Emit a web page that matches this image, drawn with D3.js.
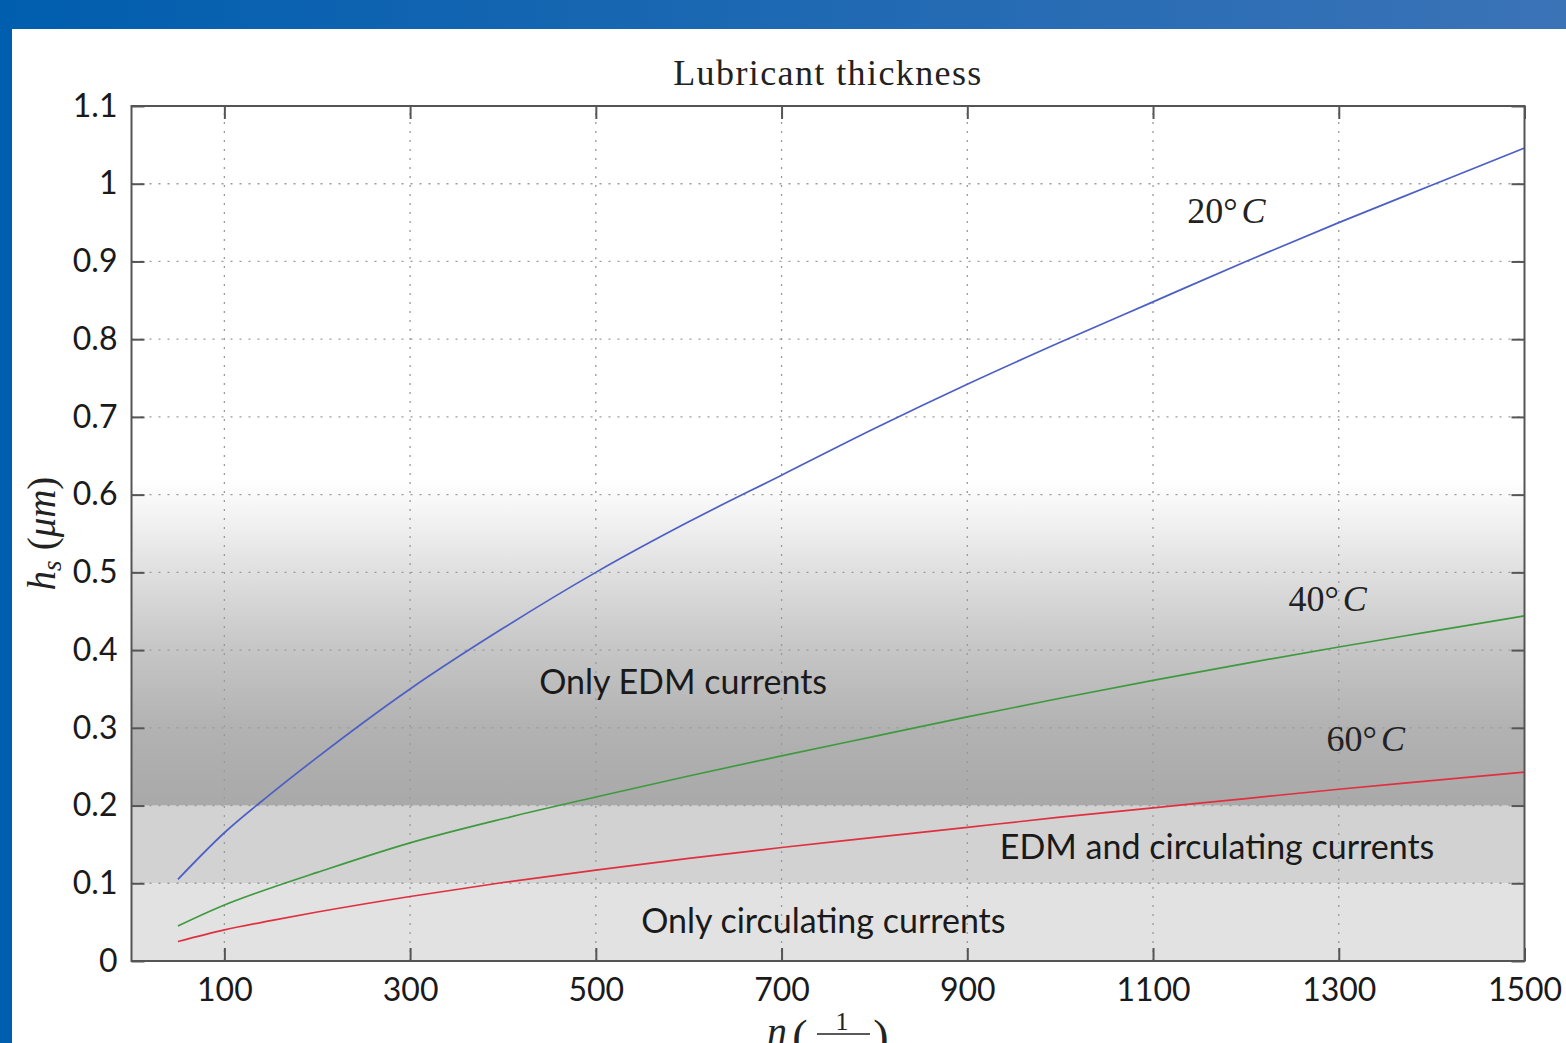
<!DOCTYPE html>
<html>
<head>
<meta charset="utf-8">
<script src="https://cdn.jsdelivr.net/npm/d3@7"></script>
<style>
  html, body { margin: 0; padding: 0; background: #fff; overflow: hidden; }
  svg { display: block; }
  .tick-label { font-family: Lato, "Open Sans", sans-serif; font-size: 32px; fill: #1a1a1a; }
  .zone-label { font-family: Lato, "Open Sans", sans-serif; font-size: 34px; fill: #1a1a1a; }
  .serif { font-family: "Liberation Serif", "DejaVu Serif", serif; fill: #222; }
</style>
</head>
<body>
<svg id="chart" width="1566" height="1043"></svg>
<script>
// speed n (1/min) and film thickness h_s (um)
const speeds = [50, 100, 150, 200, 300, 400, 500, 600, 700, 800, 900, 1000, 1100, 1200, 1300, 1400, 1500];
const h20 = [0.105, 0.165, 0.215, 0.262, 0.350, 0.428, 0.500, 0.565, 0.625, 0.685, 0.742, 0.796, 0.848, 0.900, 0.950, 0.998, 1.046];
const h40 = [0.045, 0.072, 0.094, 0.114, 0.152, 0.183, 0.211, 0.238, 0.264, 0.289, 0.314, 0.338, 0.361, 0.383, 0.404, 0.424, 0.444];
const h60 = [0.025, 0.040, 0.052, 0.063, 0.083, 0.101, 0.117, 0.132, 0.146, 0.159, 0.172, 0.185, 0.197, 0.209, 0.221, 0.232, 0.243];
const seriesNames = ['20°', '40°', '60°'];

const xTicks = [100, 300, 500, 700, 900, 1100, 1300, 1500];
const yTicks = [0, 0.1, 0.2, 0.3, 0.4, 0.5, 0.6, 0.7, 0.8, 0.9, 1, 1.1];
const zoneLimits = [0, 0.1, 0.2, 0.62];
const zoneNames = ['Only circulating currents', 'EDM and circulating currents', 'Only EDM currents'];

const W = 1566, H = 1043;
const margin = {top: 106, right: 41.5, bottom: 82, left: 131.5};

const svg = d3.select('#chart');
const defs = svg.append('defs');

// slide frame
const bar = defs.append('linearGradient').attr('id', 'barGrad');
bar.append('stop').attr('offset', '0%').attr('stop-color', '#005eae');
bar.append('stop').attr('offset', '100%').attr('stop-color', '#3b73b7');
svg.append('rect').attr('x', 0).attr('y', 0).attr('width', W).attr('height', 29).attr('fill', 'url(#barGrad)');
svg.append('rect').attr('x', 0).attr('y', 0).attr('width', 12).attr('height', H).attr('fill', '#005eae');

const x = d3.scaleLinear().domain([0, 1500]).range([margin.left, W - margin.right]);
const y = d3.scaleLinear().domain([0, 1.1]).range([H - margin.bottom, margin.top]);

// background zones
const fade = defs.append('linearGradient').attr('id', 'fade')
    .attr('x1', 0).attr('y1', 1).attr('x2', 0).attr('y2', 0);
[[0, '#a9a9a9'], [0.24, '#b2b2b2'], [0.48, '#c6c6c6'], [0.72, '#e0e0e0'], [1, '#ffffff']].forEach(s => {
    fade.append('stop').attr('offset', s[0]).attr('stop-color', s[1]);
});
const zoneFill = ['#e2e2e2', '#d2d2d2', 'url(#fade)'];
const zg = svg.append('g');
zoneFill.forEach((f, i) => {
    zg.append('rect')
        .attr('x', x(0)).attr('width', x(1500) - x(0))
        .attr('y', y(zoneLimits[i + 1])).attr('height', y(zoneLimits[i]) - y(zoneLimits[i + 1]))
        .attr('fill', f);
});

// dotted grid
const grid = svg.append('g').attr('stroke', '#9a9a9a').attr('stroke-width', 1.3).attr('stroke-dasharray', '2,7');
grid.selectAll('.gx').data(xTicks.slice(0, -1)).join('line')
    .attr('x1', d => x(d)).attr('x2', d => x(d)).attr('y1', y(0)).attr('y2', y(1.1));
grid.selectAll('.gy').data(yTicks.slice(1, -1)).join('line')
    .attr('x1', x(0)).attr('x2', x(1500)).attr('y1', d => y(d)).attr('y2', d => y(d));

// zone labels
const zoneAnchors = [[745, 0.051], [1169, 0.147], [594, 0.359]];
svg.selectAll('.zone-label').data(zoneNames).join('text')
    .attr('class', 'zone-label')
    .attr('x', (d, i) => x(zoneAnchors[i][0]))
    .attr('y', (d, i) => y(zoneAnchors[i][1]))
    .attr('dy', '0.35em')
    .attr('text-anchor', 'middle')
    .text(d => d);

// curves
const line = d3.line().x((d, i) => x(speeds[i])).y(d => y(d)).curve(d3.curveMonotoneX);
const colors = ['#4c5fc4', '#3f9a3f', '#e03040'];
svg.append('g').selectAll('path').data([h20, h40, h60]).join('path')
    .attr('d', line)
    .attr('fill', 'none')
    .attr('stroke', (d, i) => colors[i])
    .attr('stroke-width', 1.7);

// temperature labels
const tempAnchors = [[1179, 0.966], [1288, 0.467], [1329, 0.286]];
const tl = svg.append('g').selectAll('text').data(seriesNames).join('text')
    .attr('class', 'serif')
    .attr('font-size', 36)
    .attr('text-anchor', 'middle')
    .attr('x', (d, i) => x(tempAnchors[i][0]))
    .attr('y', (d, i) => y(tempAnchors[i][1]))
    .attr('dy', '0.35em');
tl.append('tspan').text(d => d);
tl.append('tspan').attr('font-style', 'italic').attr('dx', 4).text('C');

// axes box and inner ticks
const axisColor = '#555';
const axLeft = d3.axisLeft(y).tickValues(yTicks).tickSize(-13).tickPadding(14).tickFormat(d3.format('~g'));
const axRight = d3.axisRight(y).tickValues(yTicks).tickSize(-13).tickFormat('');
const axBottom = d3.axisBottom(x).tickValues(xTicks).tickSize(-13).tickPadding(17).tickFormat(d3.format('d'));
const axTop = d3.axisTop(x).tickValues(xTicks).tickSize(-13).tickFormat('');

function styleAxis(g) {
    g.attr('font-family', null).attr('font-size', null);
    g.select('.domain').remove();
    g.selectAll('.tick line').attr('stroke', axisColor).attr('stroke-width', 2);
    g.selectAll('.tick text').attr('class', 'tick-label').attr('fill', null);
}
svg.append('g').attr('transform', `translate(${x(0)},0)`).call(axLeft).call(styleAxis);
svg.append('g').attr('transform', `translate(${x(1500)},0)`).call(axRight).call(styleAxis);
svg.append('g').attr('transform', `translate(0,${y(0)})`).call(axBottom).call(styleAxis);
svg.append('g').attr('transform', `translate(0,${y(1.1)})`).call(axTop).call(styleAxis);

svg.append('rect')
    .attr('x', x(0)).attr('y', y(1.1))
    .attr('width', x(1500) - x(0)).attr('height', y(0) - y(1.1))
    .attr('fill', 'none').attr('stroke', axisColor).attr('stroke-width', 2);

// title
svg.append('text').attr('class', 'serif')
    .attr('x', (x(0) + x(1500)) / 2).attr('y', 85)
    .attr('text-anchor', 'middle').attr('font-size', 36)
    .attr('letter-spacing', 1.4)
    .text('Lubricant thickness');

// y label
const yl = svg.append('text').attr('class', 'serif')
    .attr('transform', `translate(55,${(y(0) + y(1.1)) / 2}) rotate(-90)`)
    .attr('text-anchor', 'middle').attr('font-size', 39);
yl.append('tspan').attr('font-style', 'italic').text('h');
yl.append('tspan').attr('font-style', 'italic').attr('font-size', 27).attr('dy', 6).text('s');
yl.append('tspan').attr('dy', -6).attr('dx', 10).text('(');
yl.append('tspan').attr('font-style', 'italic').text('μm');
yl.append('tspan').text(')');

// x label, fraction runs off the bottom edge as in the original
const xl = svg.append('g').attr('class', 'serif');
xl.append('text').attr('x', 777).attr('y', 1045).attr('font-size', 40).attr('font-style', 'italic').attr('text-anchor', 'middle').text('n');
xl.append('text').attr('x', 800).attr('y', 1052).attr('font-size', 46).attr('text-anchor', 'middle').text('(');
xl.append('text').attr('x', 842).attr('y', 1030).attr('font-size', 26).attr('text-anchor', 'middle').text('1');
xl.append('line').attr('x1', 817).attr('x2', 870).attr('y1', 1034).attr('y2', 1034).attr('stroke', '#222').attr('stroke-width', 1.6);
xl.append('text').attr('x', 843).attr('y', 1058).attr('font-size', 24).attr('font-style', 'italic').attr('text-anchor', 'middle').text('min');
xl.append('text').attr('x', 881).attr('y', 1052).attr('font-size', 46).attr('text-anchor', 'middle').text(')');
</script>
</body>
</html>
